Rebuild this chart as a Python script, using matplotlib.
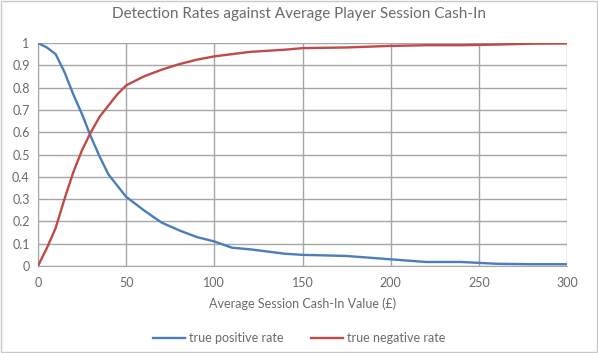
import matplotlib
matplotlib.use("Agg")
import matplotlib.pyplot as plt
from matplotlib.patches import Rectangle

x_vals = [0, 5, 10, 15, 20, 25, 30, 35, 40, 45, 50, 60, 70, 80, 90, 100, 110, 120, 130, 140,
          150, 175, 200, 220, 240, 260, 280, 300]
tpr = [1.0, 0.98, 0.95, 0.87, 0.77, 0.68, 0.58, 0.49, 0.41, 0.36, 0.31, 0.25, 0.195, 0.16, 0.13,
       0.11, 0.082, 0.075, 0.065, 0.055, 0.05, 0.045, 0.03, 0.018, 0.018, 0.01, 0.008, 0.008]
tnr = [0.0, 0.08, 0.17, 0.30, 0.42, 0.52, 0.60, 0.67, 0.72, 0.77, 0.81, 0.85, 0.88, 0.905, 0.925,
       0.94, 0.95, 0.96, 0.965, 0.97, 0.977, 0.98, 0.987, 0.99, 0.99, 0.993, 0.997, 0.998]
x_ticks = [0, 50, 100, 150, 200, 250, 300]
y_ticks = [0, 0.1, 0.2, 0.3, 0.4, 0.5, 0.6, 0.7, 0.8, 0.9, 1]
y_labels = ["0", "0.1", "0.2", "0.3", "0.4", "0.5", "0.6", "0.7", "0.8", "0.9", "1"]

plt.rcParams['font.family'] = ['Lato', 'DejaVu Sans']
txt = '#6a6a6a'

fig = plt.figure(figsize=(5.98, 3.53), dpi=100)
ax = fig.add_axes([38/598, 1-266/353, (567-38)/598, (266-43)/353])

ax.plot(x_vals, tpr, color='#4A7EBB', lw=1.7, label='true positive rate', zorder=3)
ax.plot(x_vals, tnr, color='#BE4B48', lw=1.7, label='true negative rate', zorder=3)

ax.set_xlim(0, 300)
ax.set_ylim(0, 1)
ax.set_xticks(x_ticks)
ax.set_yticks(y_ticks)
ax.set_yticklabels(y_labels)
ax.grid(True, color='#a6a6a6', lw=1)
ax.set_axisbelow(True)
for s in ax.spines.values():
    s.set_visible(False)
ax.spines['left'].set_visible(True)
ax.spines['left'].set_color('#a6a6a6')
ax.spines['bottom'].set_visible(True)
ax.spines['bottom'].set_color('#a6a6a6')
ax.tick_params(length=0, colors=txt, labelsize=9, pad=8)
ax.tick_params(axis='y', pad=6)

ax.set_xlabel('Average Session Cash-In Value (£)', color=txt, fontsize=9, labelpad=6)
fig.text(0.5, 1-14/353, 'Detection Rates against Average Player Session Cash-In', color=txt,
         fontsize=11, ha='center', va='center')

leg = fig.legend(loc='center', bbox_to_anchor=(0.5, 1-338/353), ncol=2, frameon=False,
                 fontsize=9, handlelength=2.6, columnspacing=2.2, handletextpad=0.3)
for t in leg.get_texts():
    t.set_color(txt)

fig.patches.append(Rectangle((0.002, 0.003), 0.996, 0.994, transform=fig.transFigure,
                             fill=False, edgecolor='#c8c8c8', lw=1))

fig.savefig('out.png', dpi=100)
